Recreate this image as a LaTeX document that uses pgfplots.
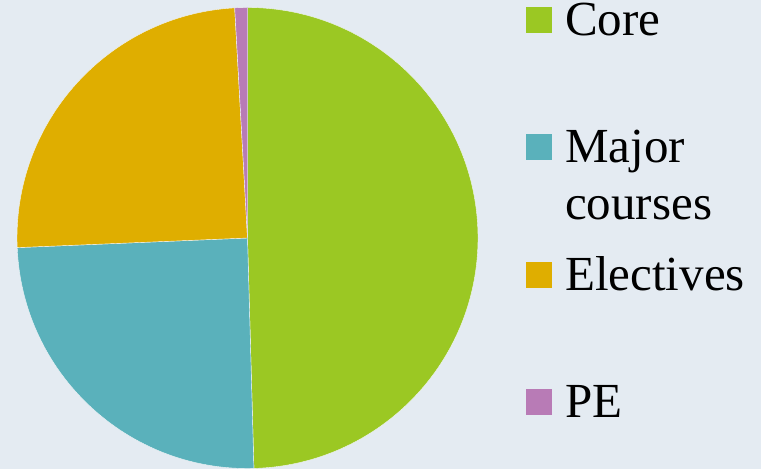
\documentclass[border=0pt]{standalone}
\usepackage{fontspec}
\setmainfont{Liberation Serif}
\usepackage{pgfplots}
\usepackage{pgfplotstable}
\pgfplotsset{compat=1.18}
\definecolor{bgcol}{HTML}{E4EBF2}
\definecolor{corecol}{HTML}{9BC823}
\definecolor{majorcol}{HTML}{5AB1BB}
\definecolor{electcol}{HTML}{DFAE00}
\definecolor{pecol}{HTML}{B87BB6}

% credits per block
\pgfplotstableread{
label value
Core 56
Major 28
Electives 28
PE 1
}\piedata

\begin{document}
\begin{tikzpicture}
\pgfplotstablegetelem{0}{value}\of\piedata \let\vA\pgfplotsretval
\pgfplotstablegetelem{1}{value}\of\piedata \let\vB\pgfplotsretval
\pgfplotstablegetelem{2}{value}\of\piedata \let\vC\pgfplotsretval
\pgfplotstablegetelem{3}{value}\of\piedata \let\vD\pgfplotsretval
\pgfmathsetmacro\total{\vA+\vB+\vC+\vD}
\pgfmathsetmacro\aA{90-\vA/\total*360}
\pgfmathsetmacro\aB{\aA-\vB/\total*360}
\pgfmathsetmacro\aC{\aB-\vC/\total*360}
\def\R{230.5pt}
\fill[bgcol] (0,0) rectangle (761pt,469pt);
\begin{axis}[
    x=1pt, y=1pt,
    scale only axis,
    hide axis,
    clip=false,
    xmin=-240, xmax=240,
    ymin=-231, ymax=231,
    anchor=origin, at={(247.5pt,231pt)},
]
\fill[corecol, draw=white!50!bgcol, line width=0.4pt]
  (axis cs:0,0) -- ++(90:\R) arc[start angle=90, end angle=\aA, radius=\R] -- cycle;
\fill[majorcol, draw=white!50!bgcol, line width=0.4pt]
  (axis cs:0,0) -- ++(\aA:\R) arc[start angle=\aA, end angle=\aB, radius=\R] -- cycle;
\fill[electcol, draw=white!50!bgcol, line width=0.4pt]
  (axis cs:0,0) -- ++(\aB:\R) arc[start angle=\aB, end angle=\aC, radius=\R] -- cycle;
\fill[pecol, draw=white!50!bgcol, line width=0.4pt]
  (axis cs:0,0) -- ++(\aC:\R) arc[start angle=\aC, end angle=-270, radius=\R] -- cycle;
\end{axis}
% legend
\begin{scope}[every node/.style={inner sep=0pt, anchor=base west, font=\fontsize{49}{57}\selectfont}]
\fill[corecol] (526pt,436pt) rectangle (552pt,462pt);
\node at (565pt,433pt) {Core};
\fill[majorcol] (526pt,309pt) rectangle (552pt,335pt);
\node at (565pt,306pt) {Major};
\node at (565pt,249pt) {courses};
\fill[electcol] (526pt,181pt) rectangle (552pt,207pt);
\node at (565pt,178.3pt) {Electives};
\fill[pecol] (526pt,54pt) rectangle (552pt,80pt);
\node at (565pt,51.3pt) {PE};
\end{scope}
\pgfresetboundingbox
\useasboundingbox (0,0) rectangle (761pt,469pt);
\end{tikzpicture}
\end{document}
